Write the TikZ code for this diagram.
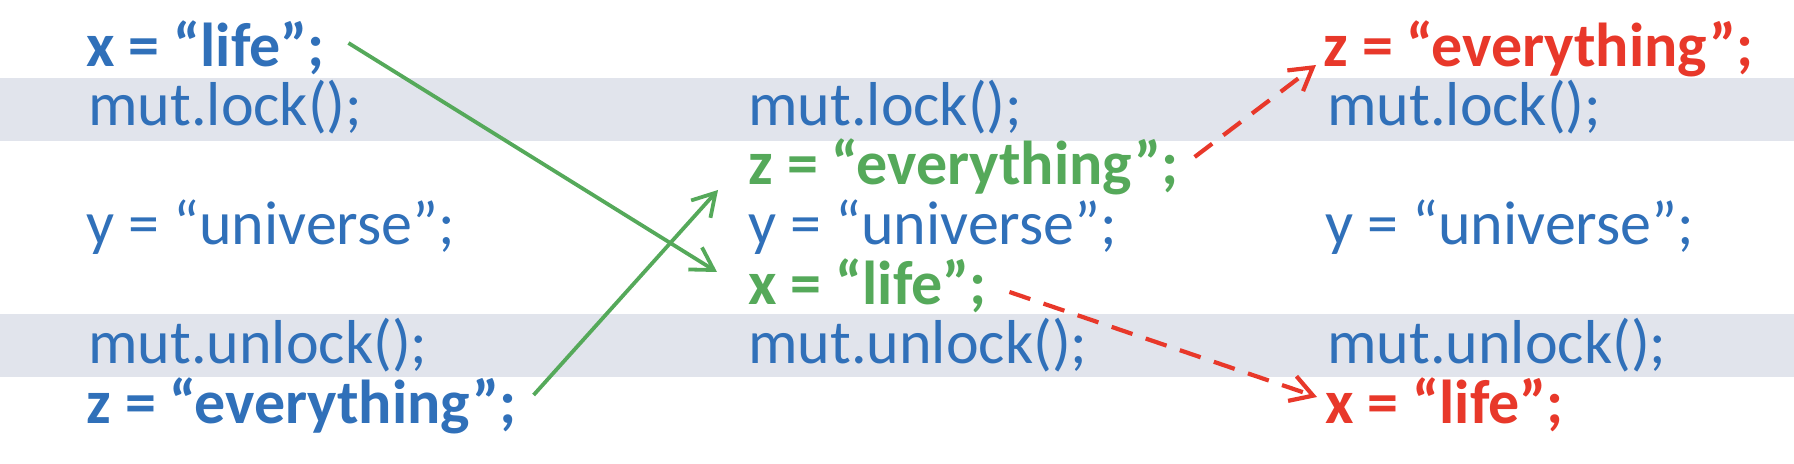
\documentclass[tikz,border=0pt]{standalone}
\usepackage{fontspec}
\setmainfont{Carlito}
\usetikzlibrary{arrows.meta}
\definecolor{codeblue}{HTML}{3070B9}
\definecolor{codegreen}{HTML}{55A95A}
\definecolor{codered}{HTML}{E8382A}
\definecolor{bandgray}{HTML}{E1E4EC}
\begin{document}
\begin{tikzpicture}[x=0.5pt, y=-0.5pt]
		\tikzset{code/.style={anchor=base west, inner sep=0, text height=21.5pt, text depth=6.5pt, font=\fontsize{31}{37}\selectfont, text=codeblue}}
		\tikzset{asgn/.style={code, font=\fontsize{31}{37}\selectfont\bfseries}}
		\tikzset{mv/.style={draw=codegreen, line width=1.9pt, -{Straight Barb[length=11pt,width=13pt]}}}
		\tikzset{ld/.style={draw=codered, line width=2.1pt, dash pattern=on 11pt off 7pt, -{Straight Barb[length=11pt,width=13pt]}}}
		\useasboundingbox (0,0) rectangle (1794,464);
		\fill[bandgray] (0,78) rectangle (1794,141);
		\fill[bandgray] (0,314) rectangle (1794,377);
		\node[asgn] at (86,67) (lx) {x = “life”;};
		\node[code] at (88,126) (lm) {mut.lock();};
		\node[code] at (86,245) (ly) {y = “universe”;};
		\node[code] at (88,364) (lu) {mut.unlock();};
		\node[asgn] at (86,424) (lz) {z = “everything”;};
		\node[code] at (748,126) (mm) {mut.lock();};
		\node[asgn, text=codegreen] at (748,185) (mz) {z = “everything”;};
		\node[code] at (748,245) (my) {y = “universe”;};
		\node[asgn, text=codegreen] at (748,305) (mx) {x = “life”;};
		\node[code] at (748,364) (mu) {mut.unlock();};
		\node[asgn, text=codered] at (1323,67) (rz) {z = “everything”;};
		\node[code] at (1327,126) (rm) {mut.lock();};
		\node[code] at (1325,245) (ry) {y = “universe”;};
		\node[code] at (1327,364) (ru) {mut.unlock();};
		\node[asgn, text=codered] at (1325,424) (rx) {x = “life”;};
		\draw[mv] ([shift={(23,-9)}]lx.east) -- ([shift={(-31,-18)}]mx.west);
		\draw[mv] ([shift={(17,-14)}]lz.east) -- ([shift={(-30,20)}]mz.west);
		\draw[ld] ([shift={(16,-13)}]mz.east) -- ([shift={(-7,13)}]rz.west);
		\draw[ld] ([shift={(22,2)}]mx.east) -- ([shift={(-8,-12)}]rx.west);
	\end{tikzpicture}
\end{document}
